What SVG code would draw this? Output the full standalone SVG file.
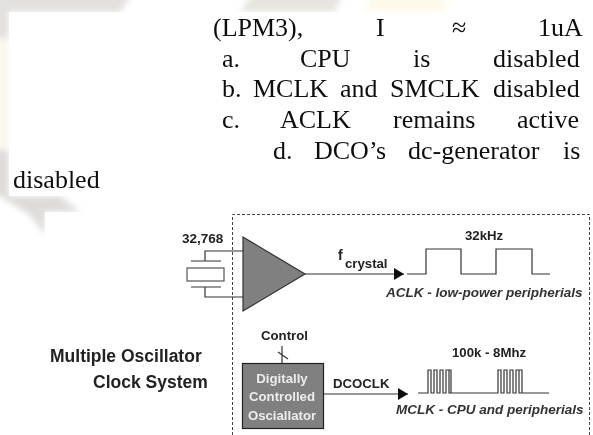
<svg xmlns="http://www.w3.org/2000/svg" width="593" height="435" viewBox="0 0 593 435">
<style>
.t{font-family:"Liberation Serif",serif;font-size:26px;fill:#111}
.s{font-family:"Liberation Sans",Arial,sans-serif;fill:#222;font-weight:700;font-size:13.2px}
.w{text-anchor:middle}
.i{font-family:"Liberation Sans",Arial,sans-serif;fill:#333;font-weight:700;font-style:italic;font-size:13.5px}
.h{font-family:"Liberation Sans",Arial,sans-serif;fill:#222;font-weight:700;font-size:17.5px}
.l{fill:none;stroke:#333;stroke-width:1.2}
.d{fill:none;stroke:#444;stroke-width:1;stroke-dasharray:3 2}
</style>
<defs>
<marker id="a" markerWidth="10" markerHeight="12" refX="10" refY="6" orient="auto" markerUnits="userSpaceOnUse"><path d="M0 0L10 6L0 12Z" fill="#111"/></marker>
<filter id="b" x="-30%" y="-30%" width="160%" height="160%"><feGaussianBlur stdDeviation="3"/></filter>
<filter id="soft" filterUnits="userSpaceOnUse" x="0" y="0" width="593" height="435"><feGaussianBlur stdDeviation="0.35"/></filter>
</defs>
<rect width="593" height="435" fill="#fff"/>
<g id="background" filter="url(#b)">
<path d="M-10 -10H135L120 12H9V38H-10Z" fill="#e3e0dd"/>
<path d="M-10 38H9V150H-10Z" fill="#fbf8ec"/>
<path d="M-10 150H9V196L30 196H60L80 212H45V235L30 215L-10 190Z" fill="#dedcda"/>
<path d="M255 -10H345L335 12H240Z" fill="#e6e5e0"/>
<path d="M375 -10H446V12H365Z" fill="#fdfaea"/>
</g>
<rect x="9" y="12" width="584" height="184" fill="#fff"/>
<rect x="45" y="212" width="548" height="223" fill="#fff"/>
<g filter="url(#soft)">
<g id="text">
<text class="t" x="213" y="36">(LPM3),</text><text class="t" x="376" y="36">I</text><text class="t" x="452" y="36">≈</text><text class="t" x="538" y="36">1uA</text>
<text class="t" x="222" y="67">a.</text><text class="t" x="300" y="67">CPU</text><text class="t" x="413" y="67">is</text><text class="t" x="493" y="67">disabled</text>
<text class="t" x="222" y="97">b.</text><text class="t" x="253" y="97">MCLK</text><text class="t" x="340" y="97">and</text><text class="t" x="390" y="97">SMCLK</text><text class="t" x="493" y="97">disabled</text>
<text class="t" x="222" y="128">c.</text><text class="t" x="280" y="128">ACLK</text><text class="t" x="393" y="128">remains</text><text class="t" x="517" y="128">active</text>
<text class="t" x="273" y="159">d.</text><text class="t" x="314" y="159">DCO’s</text><text class="t" x="408" y="159">dc-generator</text><text class="t" x="563" y="159">is</text>
<text class="t" x="13" y="188">disabled</text>
</g>
<g id="frame"><path class="d" d="M232.500 435V214.500H589.500V435"/></g>
<g id="connectors">
<path class="l" d="M243 251H205V261M243 297H205V287"/>
<path class="l" d="M305 274H404" marker-end="url(#a)"/>
<path class="l" d="M282 346V363M278 352L288 359"/>
<path class="l" d="M324 394H408" marker-end="url(#a)"/>
</g>
<g id="crystal"><path class="l" d="M191 261H221M191 287H221"/><rect x="187" y="268" width="37" height="13" fill="#fff" stroke="#555" stroke-width="1.2"/></g>
<g id="amplifier"><path d="M243 237L305 274L243 311Z" fill="#808080" stroke="#333" stroke-width="1.2"/></g>
<g id="dco"><rect x="242.500" y="363.500" width="81" height="65" fill="#808080" stroke="#222" stroke-width="1.2"/>
<text class="s w" x="282" y="383" style="fill:#ececec">Digitally</text><text class="s w" x="282" y="401" style="fill:#ececec">Controlled</text><text class="s w" x="282" y="420" style="fill:#ececec">Osciallator</text></g>
<g id="labels">
<text class="s" x="182" y="243" style="font-size:13.5px">32,768</text>
<text class="s" x="338" y="260" style="font-size:14px">f</text><text class="s" x="345" y="268">crystal</text>
<text class="s" x="465" y="240">32kHz</text>
<text class="i" x="386" y="297">ACLK - low-power peripherials</text>
<text class="s" x="261" y="340">Control</text>
<text class="s" x="333" y="388">DCOCLK</text>
<text class="s" x="452" y="357">100k - 8Mhz</text>
<text class="i" x="396" y="414">MCLK - CPU and peripherials</text>
<text class="h" x="50" y="362">Multiple Oscillator</text>
<text class="h" x="93" y="388">Clock System</text>
</g>
<g id="waves">
<path class="l" d="M407 274H426V249H461V274H496V249H532V274H550"/>
<path class="l" stroke-width="1" d="M418 393H428V370H431V393H434V370H437V393H440V370H443V393H446V370H449V393H451V370H449M451 393H498V370H501V393H504V370H507V393H510V370H513V393H516V370H519V393H522V370H519M522 393H549"/>
</g>
</g>
</svg>
